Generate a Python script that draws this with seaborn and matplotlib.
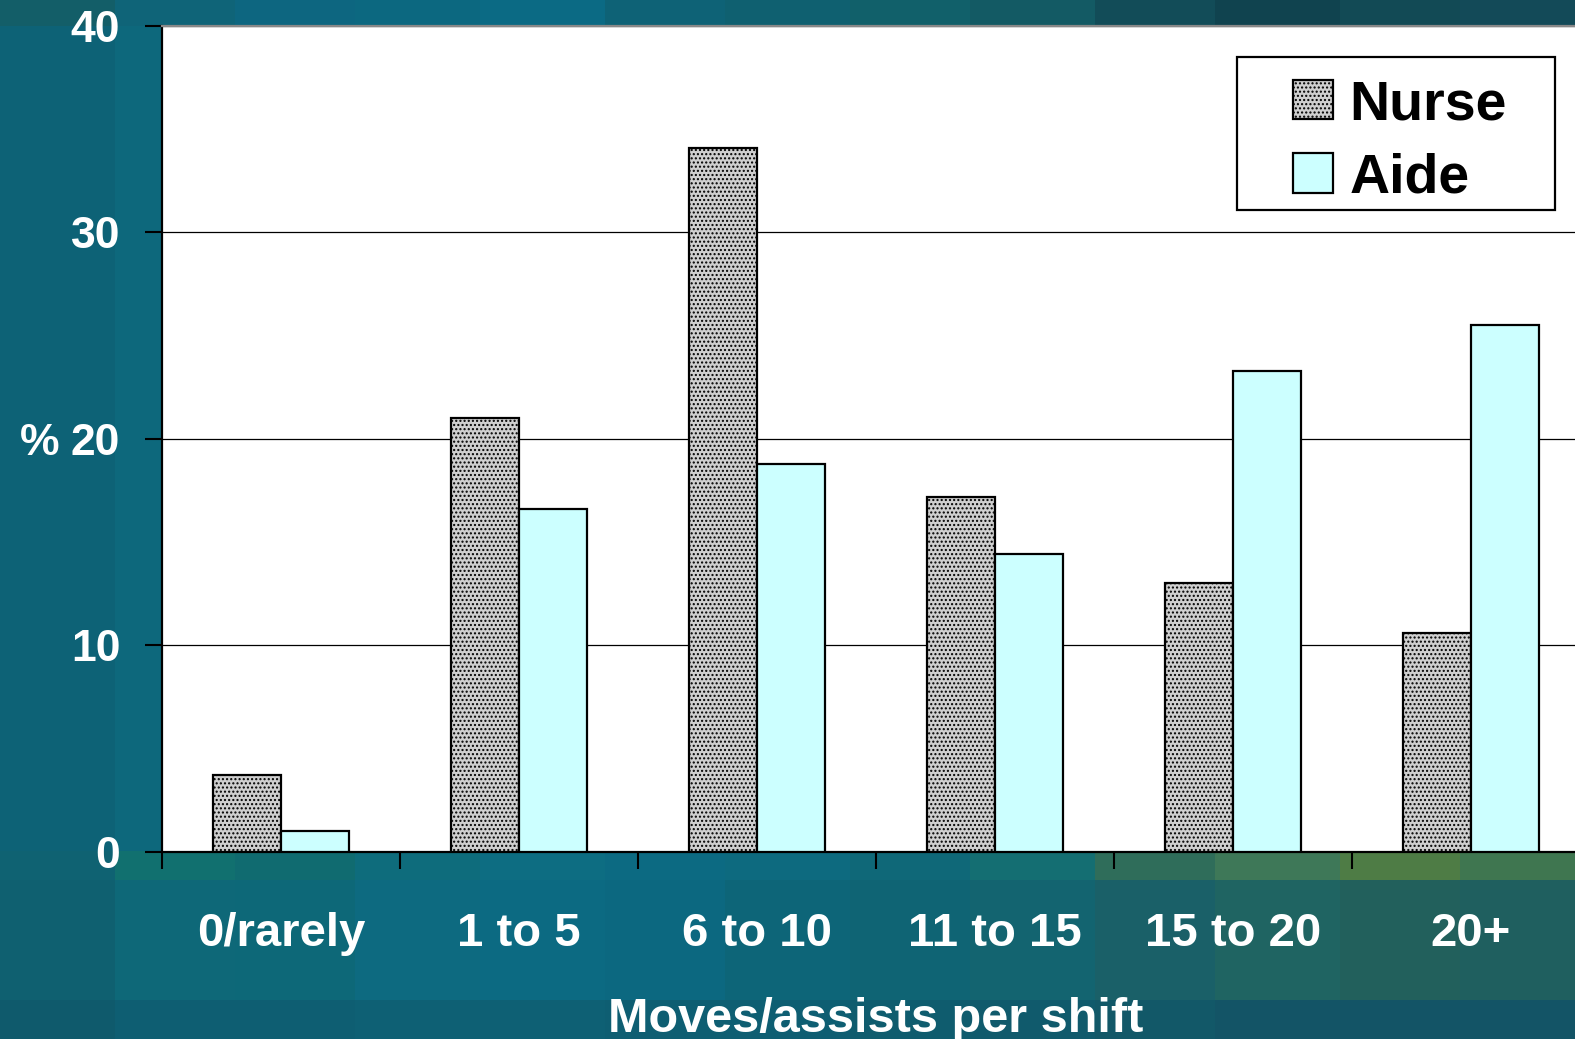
import numpy as np
import pandas as pd
import matplotlib
matplotlib.use("Agg")
import matplotlib.pyplot as plt
from matplotlib.patches import Rectangle
from matplotlib.ticker import FixedLocator
from matplotlib.colors import to_rgb
import seaborn as sns

# ---- data -------------------------------------------------------------
categories = ["0/rarely", "1 to 5", "6 to 10", "11 to 15", "15 to 20", "20+"]
nurse = [3.7, 21.0, 34.1, 17.2, 13.0, 10.6]
aide = [1.0, 16.6, 18.8, 14.4, 23.3, 25.5]
groups = ["Nurse", "Aide"]
y_ticks = [0, 10, 20, 30, 40]

df = pd.DataFrame({
    "category": categories * 2,
    "group": ["Nurse"] * len(categories) + ["Aide"] * len(categories),
    "value": nurse + aide,
})

# ---- style ------------------------------------------------------------
sns.set_theme(style="white")
plt.rcParams["font.family"] = ["Liberation Sans", "DejaVu Sans"]
plt.rcParams["font.weight"] = "bold"
plt.rcParams["hatch.color"] = "black"
plt.rcParams["hatch.linewidth"] = 1.0

W, H = 1575, 1039
fig = plt.figure(figsize=(W / 100, H / 100), dpi=100)

# ---- slide background: blocky teal mosaic -----------------------------
col_edges = [0, 115, 235, 355, 480, 605, 725, 850, 970, 1095, 1215, 1340, 1460, 1575]
row_edges = [0, 26, 851, 880, 1000, 1039]
rows = [
    ["#135e68", "#0f6478", "#0d6680", "#0c6880", "#0b6a84", "#0e6276", "#0f6070",
     "#11606a", "#135a64", "#124c58", "#10434f", "#124a55", "#134a58"],
    ["#0d6276", "#0d687c", "#0d687c", "#0d687c", "#0d687c", "#0d687c", "#0d687c",
     "#0d687c", "#0d687c", "#0d687c", "#0d687c", "#0d687c", "#0d687c"],
    ["#0f6272", "#11706f", "#106b70", "#0e6c7c", "#0d6d82", "#0c6a82", "#0d6a7f",
     "#0f6878", "#146e72", "#2f6d5a", "#3e7858", "#4e7c45", "#3f7650"],
    ["#0f6070", "#0e6878", "#0d6878", "#0d6a80", "#0c6a82", "#0c6880", "#0d6578",
     "#0f6474", "#136470", "#1a6068", "#1f6462", "#22605c", "#1f5f5f"],
    ["#0f5a6c", "#0e5e72", "#0e5e72", "#0e6074", "#0e6074", "#0e5e72", "#0e5e72",
     "#0f5c6e", "#105a6c", "#125868", "#135466", "#135466", "#135466"],
]
rgb = np.array([[to_rgb(c) for c in r] for r in rows])
bg = fig.add_axes([0, 0, 1, 1], zorder=-1)
bg.pcolormesh(col_edges, row_edges, rgb, shading="flat")
bg.set_xlim(0, W)
bg.set_ylim(H, 0)
bg.axis("off")

# ---- main chart -------------------------------------------------------
left, right = 162, 162 + 6 * 238
top, bottom = 26, 851.5
ax = fig.add_axes([left / W, 1 - bottom / H, (right - left) / W, (bottom - top) / H])
ax.set_facecolor("white")

sns.barplot(
    data=df, x="category", y="value", hue="group", hue_order=groups,
    order=categories, palette=["#cfcfcf", "#ccffff"], saturation=1,
    width=0.575, edgecolor="black", linewidth=1.6, errorbar=None,
    legend=False, ax=ax, zorder=3,
)
for bar in ax.containers[0]:
    bar.set_hatch("....")

ax.set_xlim(-0.5, len(categories) - 0.5)
ax.set_ylim(0, 40)
ax.set_yticks(y_ticks)
ax.yaxis.grid(True, color="black", linewidth=0.9)
ax.xaxis.grid(False)
ax.set_axisbelow(True)

for side in ["left", "bottom"]:
    ax.spines[side].set_color("black")
    ax.spines[side].set_linewidth(1.6)
ax.spines["top"].set_color("#888888")
ax.spines["top"].set_linewidth(1.6)
ax.spines["right"].set_visible(False)

ax.tick_params(axis="y", which="major", direction="out", length=12, width=1.5,
               color="black", pad=18, labelsize=32, labelcolor="white", left=True)
ax.xaxis.set_minor_locator(FixedLocator(np.arange(-0.5, len(categories), 1.0)))
ax.tick_params(axis="x", which="minor", direction="out", length=12, width=1.5,
               color="black", bottom=True)
ax.tick_params(axis="x", which="major", length=0, pad=43.5, labelsize=34,
               labelcolor="white")
for lbl in ax.get_xticklabels() + ax.get_yticklabels():
    lbl.set_fontweight("bold")

ax.set_xlabel("Moves/assists per shift", fontsize=35, fontweight="bold", color="white")
ax.xaxis.set_label_coords(0.5, -0.176)
ax.set_ylabel("%", fontsize=32, fontweight="bold", color="white", rotation=0,
              ha="center", va="center_baseline")
ax.yaxis.set_label_coords(-0.0854, 0.5)

# ---- legend -----------------------------------------------------------
box = Rectangle((1236.5 / W, 1 - 210 / H), (1555 - 1236.5) / W, (210 - 57.3) / H,
                transform=fig.transFigure, facecolor="white", edgecolor="black",
                linewidth=1.6, zorder=4)
fig.add_artist(box)
handles = [ax.containers[0][0], ax.containers[1][0]]
leg = fig.legend(
    handles, groups, loc="upper left", bbox_to_anchor=(1293 / W, 1 - 79 / H),
    frameon=False, borderpad=0, borderaxespad=0, handlelength=0.72,
    handleheight=0.72, handletextpad=0.30, labelspacing=0.38,
    prop={"family": "Liberation Sans", "weight": "bold", "size": 40},
)
leg.set_zorder(5)
for t in leg.get_texts():
    t.set_color("black")

fig.savefig("out.png", dpi=100)
